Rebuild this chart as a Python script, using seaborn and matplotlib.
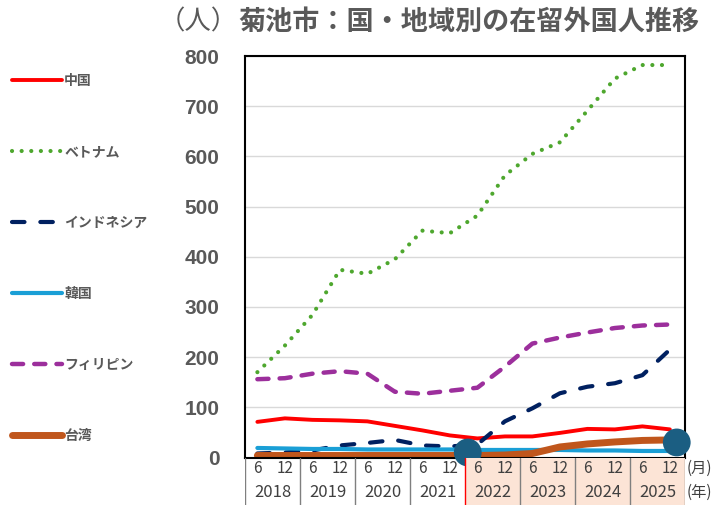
import matplotlib
matplotlib.use("Agg")
import pandas as pd
import matplotlib.pyplot as plt
import seaborn as sns

# ============= データ（半年ごと: 6月・12月） =============
years = [2018, 2019, 2020, 2021, 2022, 2023, 2024, 2025]
months = [6, 12]
china = [71, 78, 75, 74, 72, 63, 54, 44, 38, 42, 42, 49, 57, 56, 62, 56]
vietnam = [170, 223, 284, 374, 366, 395, 452, 447, 482, 562, 605, 628, 691, 755, 782, 782]
indonesia = [8, 10, 14, 24, 29, 35, 24, 22, 26, 72, 98, 128, 141, 148, 164, 215]
korea = [19, 18, 17, 17, 16, 16, 16, 16, 15, 15, 15, 15, 14, 14, 13, 13]
philippines = [156, 158, 167, 172, 167, 131, 127, 133, 139, 181, 227, 239, 249, 258, 263, 265]
taiwan = [4, 4, 4, 4, 4, 4, 4, 4, 4, 5, 8, 21, 27, 31, 34, 35]
countries = ['中国', 'ベトナム', 'インドネシア', '韓国', 'フィリピン', '台湾']
shaded_years = [2022, 2023, 2024, 2025]
highlight_x = [7.65, 15.25]
highlight_y = [10, 30]

# ============= 見た目の設定 =============
styles = {
    '中国': dict(color='#ff0000', lw=2.8, dashes=None),
    'ベトナム': dict(color='#4ea72e', lw=3.0, dashes=(0.01, 2.3)),
    'インドネシア': dict(color='#002060', lw=3.0, dashes=(3.0, 3.8)),
    '韓国': dict(color='#1a9fd6', lw=3.0, dashes=None),
    'フィリピン': dict(color='#9c2f9c', lw=3.2, dashes=(2.5, 2.5)),
    '台湾': dict(color='#c0561c', lw=5.0, dashes=None),
}
GREY = '#595959'

sns.set_theme(style='white')
plt.rcParams['font.family'] = ['Noto Sans CJK JP', 'DejaVu Sans']

# 長い形式のデータフレーム
labels = [f'{y}-{m}' for y in years for m in months]
values = [china, vietnam, indonesia, korea, philippines, taiwan]
df = pd.concat([
    pd.DataFrame({'idx': range(len(labels)), 'period': labels, 'value': v, 'country': c})
    for c, v in zip(countries, values)
])

fig = plt.figure(figsize=(7.14, 5.05), dpi=100)
W, H = 714, 505
ax = fig.add_axes([245 / W, (H - 457.5) / H, 440 / W, (457.5 - 56) / H])

for c in countries:
    st = styles[c]
    sub = df[df['country'] == c]
    sns.lineplot(data=sub, x='idx', y='value', ax=ax, color=st['color'],
                 linewidth=st['lw'], label=c)
    line = ax.lines[-1]
    line.set_solid_capstyle('round')
    line.set_dash_capstyle('round')
    if st['dashes'] is not None:
        line.set_dashes(st['dashes'])

# 強調の丸
sns.scatterplot(x=highlight_x, y=highlight_y, ax=ax, s=400, color='#1b5e82',
                edgecolor='none', zorder=10, clip_on=False, legend=False)

xmin, xmax = -0.45, 15.55
ax.set_xlim(xmin, xmax)
ax.set_ylim(0, 800)
ax.set_yticks(range(0, 801, 100))
ax.set_xticks([])
ax.set_xlabel('')
ax.set_ylabel('')
ax.yaxis.grid(True, color='#d9d9d9', lw=1)
ax.set_axisbelow(True)
for s in ax.spines.values():
    s.set_color('black')
    s.set_linewidth(1.5)
ax.tick_params(axis='y', length=0, pad=18.5, labelsize=15, labelcolor=GREY)
for t in ax.get_yticklabels():
    t.set_fontfamily('Liberation Sans')
    t.set_fontweight('bold')

# 凡例（左側）
handles, lbls = ax.get_legend_handles_labels()
leg = ax.legend(handles, lbls, loc='upper left', bbox_to_anchor=(12 / W, 1 - 74 / H),
                bbox_transform=fig.transFigure, frameon=False, borderpad=0,
                borderaxespad=0, handlelength=3.6, handletextpad=0.15,
                labelspacing=4.1, prop=dict(size=10, weight='bold'))
for t in leg.get_texts():
    t.set_color(GREY)

# 下部の表（月・年）
tab = fig.add_axes([245 / W, 0, 440 / W, 47.5 / H])
tab.set_xlim(xmin, xmax)
tab.set_ylim(0, 2)
tab.axis('off')
bounds = [xmin + 2 * k for k in range(len(years) + 1)]
for k, y in enumerate(years):
    if y in shaded_years:
        tab.axvspan(bounds[k], bounds[k + 1], color='#fce4d6', lw=0)
    tab.text(bounds[k] + 1.0, 0.52, str(y), ha='center', va='center',
             fontsize=12, color='#404040')
    for j, m in enumerate(months):
        tab.text(2 * k + j, 1.55, str(m), ha='center', va='center',
                 fontsize=11, color='#404040')
for k, b in enumerate(bounds):
    col = '#ff0000' if k < len(years) and years[k] == shaded_years[0] else '#7f7f7f'
    tab.axvline(b, color=col, lw=1)

fig.text(687 / W, 1 - 468 / H, '(月)', ha='left', va='center', fontsize=11, color='#404040')
fig.text(687 / W, 1 - 492 / H, '(年)', ha='left', va='center', fontsize=11, color='#404040')

# タイトル
fig.text(159 / W, 1 - 22 / H, '（人）', ha='left', va='center', fontsize=19, color=GREY)
fig.text(238 / W, 1 - 22 / H, '菊池市：国・地域別の在留外国人推移', ha='left', va='center',
         fontsize=19.5, fontweight='bold', color=GREY)

fig.savefig('out.png', dpi=100)
